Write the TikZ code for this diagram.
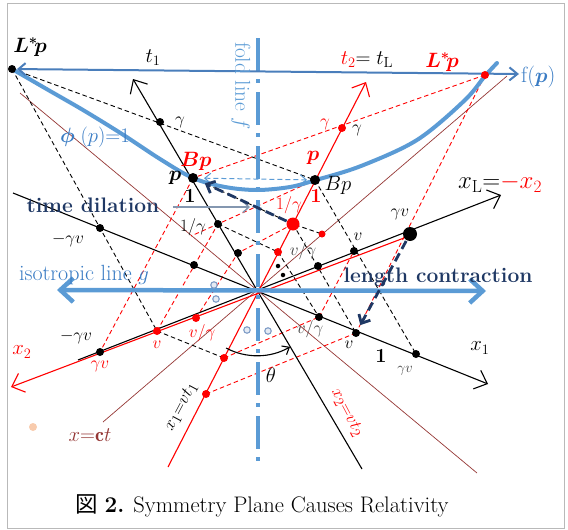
\documentclass[tikz,border=0pt]{standalone}
\usepackage{amsmath}
\usepackage{bm}
\usepackage{fontspec}
\newfontfamily\cjkfont{Noto Sans CJK JP}
\usetikzlibrary{arrows.meta}
\definecolor{fblue}{HTML}{5B9BD5}
\definecolor{tblue}{HTML}{3A7CC4}
\definecolor{lblue}{HTML}{4A7EBB}
\definecolor{navy}{HTML}{1F3864}
\definecolor{brn}{HTML}{953735}
\definecolor{rd}{HTML}{FF0000}
\definecolor{org}{HTML}{F8CBAD}
\definecolor{gblue}{HTML}{8497B0}
\definecolor{cblue}{HTML}{7E9CC6}
\definecolor{dgray}{HTML}{404040}
\newcommand\myfs[1]{\fontsize{#1}{#1}\selectfont}
\begin{document}
\begin{tikzpicture}[x=1pt,y=-1pt,
  axarrow/.style={line width=1.1pt,-{Straight Barb[length=11pt,width=20pt]}},
  bdash/.style={black,line width=0.9pt,dash pattern=on 4.5pt off 3pt},
  rdash/.style={rd,line width=0.9pt,dash pattern=on 4.5pt off 3pt},
  brline/.style={brn,line width=0.7pt},
  bdot/.style={circle,fill=black,inner sep=0pt,minimum size=#1},
  rdot/.style={circle,fill=rd,inner sep=0pt,minimum size=#1},
  lab/.style={inner sep=0pt,font=\myfs{18}},
  navyarrow/.style={navy,line width=2.8pt,dash pattern=on 9pt off 5pt,-{Straight Barb[length=7pt,width=13pt]}},
  smallcirc/.style={circle,draw=cblue,fill=cblue!20,line width=1.1pt,inner sep=0pt,minimum size=6.5pt}
]
\path[use as bounding box] (0,0) rectangle (568,530);
\draw[gray!55,line width=1pt] (7,3) rectangle (564,528);
% ---------- points
\coordinate (O) at (257,290);
\coordinate (Lp) at (12,69);
\coordinate (Lpr) at (485,75);
\coordinate (fpe) at (519,74);
\coordinate (g1) at (160,122);
\coordinate (P) at (193,178);
\coordinate (Bp) at (315,180);
\coordinate (ig) at (218,224);
\coordinate (a1) at (238,253);
\coordinate (xm1) at (100,228);
\coordinate (xm2) at (194,265);
\coordinate (sd1) at (278,266);
\coordinate (sd2) at (283,275);
\coordinate (xl1) at (318,266);
\coordinate (xl2) at (354,251);
\coordinate (GV) at (410,234);
\coordinate (x1a) at (319,317);
\coordinate (x1b) at (356,333);
\coordinate (x1c) at (416,354);
\coordinate (xll) at (100,352);
\coordinate (g2) at (342,128);
\coordinate (RB) at (293,224);
\coordinate (r1) at (278,252);
\coordinate (r2) at (322,234);
\coordinate (rv) at (157,331);
\coordinate (rvg) at (196,318);
\coordinate (rl1) at (224,358);
\coordinate (rl2) at (206,394);
\coordinate (rB) at (191,236);
% axis ends
\coordinate (t1s) at (362,469); \coordinate (t1t) at (133,79);
\coordinate (x1s) at (13,193);  \coordinate (x1t) at (488,384);
\coordinate (xLs) at (78,360);  \coordinate (xLt) at (501,195);
\coordinate (t2s) at (168,467); \coordinate (t2t) at (366,82);
\coordinate (x2s) at (404,238); \coordinate (x2t) at (11,387);
\coordinate (bA1) at (103,422); \coordinate (bA2) at (507,76);
\coordinate (bB1) at (20,93);   \coordinate (bB2) at (477,473);
\coordinate (fT) at (258,38);   \coordinate (fB) at (258,462);
\coordinate (gL) at (57,290);   \coordinate (gR) at (486,291);
\coordinate (oneA) at (173,207); \coordinate (oneB) at (250,207);
% ---------- brown light lines
\draw[brline] (bA1) -- (bA2);
\draw[brline] (bB1) -- (bB2);
% ---------- black dashed grid
\draw[bdash] (Lp) -- (Bp);
\draw[bdash] (Lp) -- (rv);
\draw[bdash] (rv) -- (rl1);
\draw[bdash] (Bp) -- (x1c);
\draw[bdash] (ig) -- (r1);
\draw[bdash] (RB) -- (x1b);
\draw[bdash] (r1) -- (x1a);
\draw[bdash] (P) -- (RB) -- (r2);
% ---------- red dashed grid
\draw[rdash] (Lpr) -- (P);
\draw[rdash] (Lpr) -- (x1b);
\draw[rdash] (P) -- (xll);
\draw[rdash] (rl1) -- (x1a);
\draw[rdash] (rl2) -- (x1b);
\draw[rdash] (rv) -- (ig);
\draw[rdash] (rvg) -- (a1);
\draw[rdash] (RB) -- (a1);
\draw[rdash] (x1a) -- (xl2);
\draw[rdash] (Bp) -- (ig) -- (rB);
% ---------- axes
\draw[axarrow] (t1s) -- (t1t);
\draw[axarrow] (x1s) -- (x1t);
\draw[axarrow] (xLs) -- (xLt);
\draw[rd,axarrow] (t2s) -- (t2t);
\draw[rd,axarrow] (x2s) -- (x2t);
% ---------- fold line and isotropic line
\draw[fblue,line width=4pt,dash pattern=on 33pt off 8pt on 4pt off 9pt] (fT) -- (fB);
\draw[fblue,line width=4.5pt,{Straight Barb[length=13pt,width=24pt]}-{Straight Barb[length=13pt,width=24pt]}] (gL) -- (gR);
% ---------- curve phi(p)=1
\draw[fblue,line width=4pt,line cap=round] plot[smooth,tension=0.55] coordinates
 {(12,69) (50,91) (83,110) (122,134) (160,159) (193,178) (225,187) (257,190) (290,187) (316,180) (361,166) (417,140) (464,101) (485,76) (497,63)};
% ---------- top line
\draw[lblue,line width=2pt,shorten <=5pt,{Straight Barb[length=7pt,width=12pt]}-{Straight Barb[length=8pt,width=13pt]}] (Lp) -- (fpe);
% ---------- small arrows
\draw[fblue,line width=1pt,dash pattern=on 5pt off 3pt,shorten <=11pt,shorten >=8pt,{Straight Barb[length=6pt,width=10pt]}-{Straight Barb[length=6pt,width=10pt]}] (P) -- (Bp);
\draw[gblue,line width=1.5pt,-{Straight Barb[length=6pt,width=11pt]}] (oneA) -- (oneB);
\draw[navyarrow,shorten <=7pt,shorten >=13pt] (RB) -- (P);
\draw[navyarrow,shorten <=8pt,shorten >=9pt] (GV) -- (x1b);
% ---------- theta arc
\draw[line width=1.1pt,-{Straight Barb[length=6pt,width=10pt]}] (226,348) arc[start angle=118,end angle=60,radius=66];
% ---------- dots
\node[bdot=8pt] (dLp) at (Lp) {};
\node[bdot=8pt] (dg1) at (g1) {};
\node[bdot=10pt] (dP) at (P) {};
\node[bdot=10pt] (dBp) at (Bp) {};
\node[bdot=8pt] (dig) at (ig) {};
\node[bdot=8pt] (da1) at (a1) {};
\node[bdot=8pt] (dxm1) at (xm1) {};
\node[bdot=8pt] (dxm2) at (xm2) {};
\node[bdot=4.5pt] (dsd1) at (sd1) {};
\node[bdot=4.5pt] (dsd2) at (sd2) {};
\node[bdot=8pt] (dxl1) at (xl1) {};
\node[bdot=8pt] (dxl2) at (xl2) {};
\node[bdot=14pt] (dGV) at (GV) {};
\node[bdot=8pt] (dx1a) at (x1a) {};
\node[bdot=8pt] (dx1b) at (x1b) {};
\node[bdot=8pt] (dx1c) at (x1c) {};
\node[bdot=8pt] (dxll) at (xll) {};
\node[rdot=8pt] (dLpr) at (Lpr) {};
\node[rdot=8pt] (dg2) at (g2) {};
\node[rdot=13pt] (dRB) at (RB) {};
\node[rdot=8pt] (dr1) at (r1) {};
\node[rdot=7pt] (dr2) at (r2) {};
\node[rdot=8pt] (drv) at (rv) {};
\node[rdot=8pt] (drvg) at (rvg) {};
\node[rdot=8pt] (drl1) at (rl1) {};
\node[rdot=8pt] (drl2) at (rl2) {};
\node[circle,fill=org,inner sep=0pt,minimum size=8pt] (odot) at (33,427) {};
\node[smallcirc] (c1) at (214,285) {};
\node[smallcirc] (c2) at (216,299) {};
\node[smallcirc] (c3) at (247,330) {};
\node[smallcirc] (c4) at (268,331) {};
% ---------- labels
\node[lab,font=\myfs{22}] (tLp) at (30,47) {$\bm{L^{*}\!p}$};
\node[lab,font=\myfs{22}] (tt1) at (153,58) {$t_1$};
\node[lab,font=\myfs{21.5},text=fblue,rotate=-90] (tfold) at (241,86) {fold line $f$};
\node[lab,font=\myfs{21}] (tt2) at (367,60) {$\textcolor{rd}{t_2}{=}\;t_{\mathrm{L}}$};
\node[lab,font=\myfs{22},text=rd] (tLpr) at (442,62) {$\bm{L^{*}\!p}$};
\node[lab,font=\myfs{22},text=tblue,anchor=west] (tfp) at (521,77) {f($\bm{p}$)};
\node[lab] (tg1) at (180,122) {$\gamma$};
\node[lab,text=rd] (tg2r) at (325,124) {$\gamma$};
\node[lab] (tg2b) at (357,130) {$\gamma$};
\node[lab,font=\myfs{20},text=tblue] (tphi) at (95,137) {$\bm{\phi}\;(p){=}1$};
\node[lab,font=\myfs{20},text=rd] (tBpr) at (196,161) {$\bm{Bp}$};
\node[lab,font=\myfs{20}] (tP) at (175,178) {$\bm{p}$};
\node[lab,font=\myfs{20},text=rd] (tPr) at (313,158) {$\bm{p}$};
\node[lab,font=\myfs{20}] (tBp) at (338,185) {$Bp$};
\node[lab,font=\myfs{20}] (t1b) at (190,196) {\textbf{1}};
\node[lab,font=\myfs{20},text=rd] (t1r) at (316,196) {\textbf{1}};
\node[lab,text=rd] (tigr) at (289,205) {$1/\gamma$};
\node[lab] (tigb) at (193,227) {$1/\gamma$};
\node[lab,font=\myfs{21},text=navy] (ttd) at (93,205) {\textbf{time dilation}};
\node[lab] (tmgv1) at (68,240) {$-\gamma v$};
\node[lab,font=\myfs{22},text=tblue] (tiso) at (84,275) {isotropic line $g$};
\node[lab,font=\myfs{21},text=navy] (tlc) at (438,277) {\textbf{length contraction}};
\node[lab] (tGV) at (400,214) {$\gamma v$};
\node[lab] (tv1) at (358,237) {$v$};
\node[lab,font=\myfs{16},text=dgray] (tvg1) at (303,251) {$v/\gamma$};
\node[lab,font=\myfs{25}] (txL) at (500,183) {$x_{\mathrm{L}}{=}\textcolor{rd}{-x_2}$};
\node[lab] (tmgv2) at (76,337) {$-\gamma v$};
\node[lab,text=rd] (tvr) at (157,345) {$v$};
\node[lab,text=rd] (tvgr) at (202,333) {$v/\gamma$};
\node[lab,text=rd] (tgvr) at (100,366) {$\gamma v$};
\node[lab,font=\myfs{22},text=rd] (tx2) at (22,352) {$x_2$};
\node[lab,font=\myfs{16},text=dgray] (tvg2) at (310,329) {$v/\gamma$};
\node[lab] (tv2) at (349,345) {$v$};
\node[lab,font=\myfs{20}] (tone) at (381,356) {\textbf{1}};
\node[lab,font=\myfs{14},text=dgray] (tgv3) at (405,371) {$\gamma v$};
\node[lab,font=\myfs{22}] (tx1) at (480,348) {$x_1$};
\node[lab,font=\myfs{20}] (tth) at (271,375) {$\theta$};
\node[lab,font=\myfs{19},rotate=62] (tx1v) at (181,407) {$x_1{=}vt_1$};
\node[lab,font=\myfs{19},rotate=-62,text=rd] (tx2v) at (347,413) {$x_2{=}vt_2$};
\node[lab,font=\myfs{20},text=brn] (txct) at (90,435) {$x{=}\mathbf{c}t$};
\node[lab,font=\myfs{22.5}] (cap) at (262,506) {{\cjkfont 図} \textbf{2.} Symmetry Plane Causes Relativity};
\end{tikzpicture}
\end{document}
